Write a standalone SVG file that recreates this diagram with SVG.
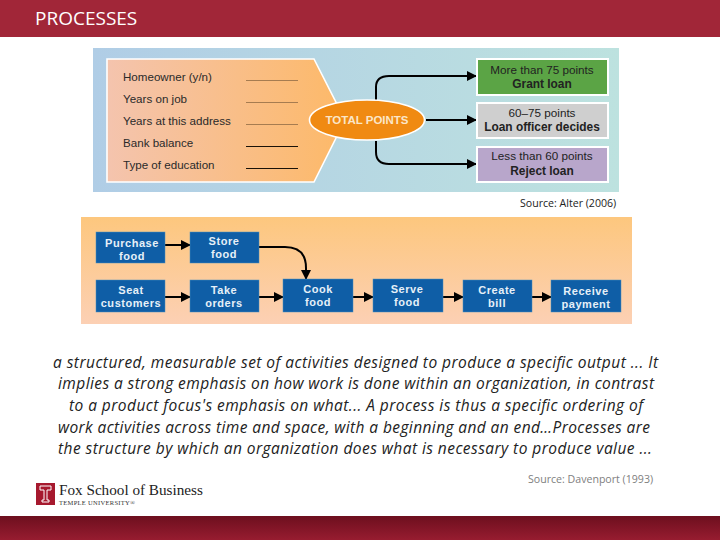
<svg xmlns="http://www.w3.org/2000/svg" width="720" height="540" viewBox="0 0 720 540">
<style>
.s{font-family:"Liberation Sans",Arial,sans-serif}
.l{font-size:11.6px;fill:#2a2a2a}
.c{font-size:11.7px;fill:#222;text-anchor:middle}
.b{font-weight:bold;font-size:11.9px}
.w{font-size:11px;letter-spacing:.55px;font-weight:bold;fill:#e6f0f8;text-anchor:middle}
.p{fill:#0f5ea6;stroke:#4a8fbf;stroke-width:.5}
.o{fill:none;stroke:#000;stroke-width:2}
.t{font-family:"Open Sans",sans-serif;font-style:italic;font-size:15.5px;fill:#222}
.src{font-family:"Open Sans",sans-serif;font-size:10.6px}
</style>
<defs>
<linearGradient id="g1" x1="0" x2="1" y1="0" y2="0"><stop offset="0" stop-color="#b0cde6"/><stop offset="1" stop-color="#bde2df"/></linearGradient>
<linearGradient id="g2" x1="0" x2="1" y1="0" y2="0"><stop offset="0" stop-color="#f4c4ae"/><stop offset="1" stop-color="#fdb968"/></linearGradient>
<linearGradient id="g3" x1="0" x2="0" y1="0" y2="1"><stop offset="0" stop-color="#fdc77e"/><stop offset="1" stop-color="#fcd0b4"/></linearGradient>
<linearGradient id="g5" x1="0" x2="0" y1="0" y2="1"><stop offset="0" stop-color="#6d0f1e"/><stop offset="1" stop-color="#971c30"/></linearGradient>
<marker id="a" markerWidth="5" markerHeight="5" refX="4.500" refY="2.500" orient="auto" markerUnits="strokeWidth" viewBox="0 0 5 5"><path d="M0 0L5 2.500L0 5z" fill="#000"/></marker>
</defs>
<rect width="720" height="540" fill="#fff"/>
<rect width="720" height="37" fill="#a12638"/>
<rect y="516" width="720" height="24" fill="url(#g5)"/>
<text x="35" y="25" font-family="Open Sans,sans-serif" font-size="19" fill="#fff">PROCESSES</text>

<rect x="93" y="48" width="526" height="144" fill="url(#g1)"/>
<rect x="81" y="217" width="551" height="107" fill="url(#g3)"/>
<g id="score-sheet">
<path d="M107 59H314L345 120L314 182H107z" fill="url(#g2)" stroke="#fff" stroke-width="1.600"/>
<text class="s l" x="123" y="81">Homeowner (y/n)</text>
<text class="s l" x="123" y="103">Years on job</text>
<text class="s l" x="123" y="125">Years at this address</text>
<text class="s l" x="123" y="147">Bank balance</text>
<text class="s l" x="123" y="169">Type of education</text>
<path d="M246 80.500h52M246 102.500h52M246 124.500h52" stroke="#a67c50" stroke-width="1"/>
<path d="M246 146.500h52M246 168.500h52" stroke="#1a1208" stroke-width="1"/>
</g>
<g id="connectors">
<path class="o" d="M376 100V87Q376 76 389 76H476" marker-end="url(#a)"/>
<path class="o" d="M426 120H476" marker-end="url(#a)"/>
<path class="o" d="M376 141V152Q376 164 389 164H476" marker-end="url(#a)"/>
<path class="o" d="M165 245H190" marker-end="url(#a)"/>
<path class="o" d="M259 247H285Q306 247 306 268V279" marker-end="url(#a)"/>
<path class="o" d="M165 297H190" marker-end="url(#a)"/>
<path class="o" d="M259 297H283" marker-end="url(#a)"/>
<path class="o" d="M353 297H373" marker-end="url(#a)"/>
<path class="o" d="M443 297H463" marker-end="url(#a)"/>
<path class="o" d="M532 297H551" marker-end="url(#a)"/>
</g>
<g id="total-points">
<ellipse cx="367" cy="120" rx="57.500" ry="20" fill="#f08a12" stroke="#fff" stroke-width="1.600"/>
<text class="s" font-weight="bold" x="367" y="124" font-size="11.500" fill="#fbe6c8" text-anchor="middle">TOTAL POINTS</text>
</g>
<g id="grant">
<rect x="477" y="59" width="131" height="36" fill="#5ba445" stroke="#fff" stroke-width="2"/>
<text class="s c" x="542" y="73.500">More than 75 points</text>
<text class="s c b" x="542" y="88">Grant loan</text>
</g>
<g id="officer">
<rect x="477" y="103" width="131" height="35" fill="#cfcfcf" stroke="#fff" stroke-width="2"/>
<text class="s c" x="542" y="117">60–75 points</text>
<text class="s c b" x="542" y="131">Loan officer decides</text>
</g>
<g id="reject">
<rect x="477" y="147" width="131" height="35" fill="#b8a6cb" stroke="#fff" stroke-width="2"/>
<text class="s c" x="542" y="160">Less than 60 points</text>
<text class="s c b" x="542" y="175">Reject loan</text>
</g>
<text class="src" x="520" y="207" fill="#222">Source: Alter (2006)</text>

<g id="purchase"><rect class="p" x="96" y="232" width="69" height="31"/><text class="s w" x="132" y="247">Purchase</text><text class="s w" x="132" y="260">food</text></g>
<g id="store"><rect class="p" x="190" y="232" width="69" height="31"/><text class="s w" x="224" y="245">Store</text><text class="s w" x="224" y="258">food</text></g>
<g id="seat"><rect class="p" x="96" y="280" width="69" height="32"/><text class="s w" x="131" y="294">Seat</text><text class="s w" x="131" y="307">customers</text></g>
<g id="take"><rect class="p" x="190" y="280" width="69" height="32"/><text class="s w" x="224" y="294">Take</text><text class="s w" x="224" y="307">orders</text></g>
<g id="cook"><rect class="p" x="283" y="279" width="70" height="33"/><text class="s w" x="318" y="293">Cook</text><text class="s w" x="318" y="306">food</text></g>
<g id="serve"><rect class="p" x="373" y="279" width="70" height="33"/><text class="s w" x="407" y="293">Serve</text><text class="s w" x="407" y="306">food</text></g>
<g id="create"><rect class="p" x="463" y="280" width="69" height="32"/><text class="s w" x="497" y="294">Create</text><text class="s w" x="497" y="307">bill</text></g>
<g id="receive"><rect class="p" x="551" y="280" width="70" height="32"/><text class="s w" x="586" y="294.500">Receive</text><text class="s w" x="586" y="307.500">payment</text></g>

<text class="t" x="53" y="368" textLength="605" lengthAdjust="spacing">a structured, measurable set of activities designed to produce a specific output ... It</text>
<text class="t" x="58" y="389" textLength="596" lengthAdjust="spacing">implies a strong emphasis on how work is done within an organization, in contrast</text>
<text class="t" x="69" y="411" textLength="574" lengthAdjust="spacing">to a product focus's emphasis on what... A process is thus a specific ordering of</text>
<text class="t" x="58" y="433" textLength="592" lengthAdjust="spacing">work activities across time and space, with a beginning and an end…Processes are</text>
<text class="t" x="58" y="454" textLength="594" lengthAdjust="spacing">the structure by which an organization does what is necessary to produce value ...</text>
<text class="src" x="528" y="483" fill="#808080">Source: Davenport (1993)</text>

<g id="logo">
<rect x="36" y="483" width="19" height="22" fill="#a6192e"/>
<path d="M40 486H51V490H47V500H49V502H42V500H44V490H40z" fill="none" stroke="#fff" stroke-width="1"/>
<text x="59" y="495" font-family="Liberation Serif,serif" font-size="15.200" fill="#222">Fox School of Business</text>
<text x="59" y="505" font-family="Liberation Serif,serif" font-size="6.500" fill="#333" textLength="76">TEMPLE UNIVERSITY®</text>
</g>
</svg>
